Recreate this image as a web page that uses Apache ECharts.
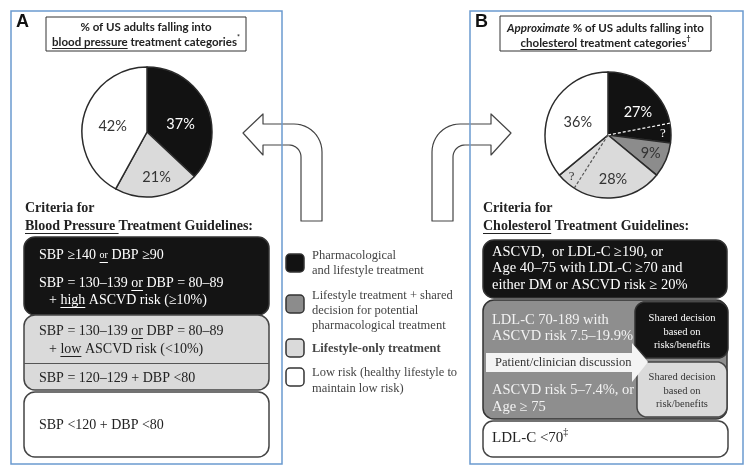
<!DOCTYPE html>
<html><head><meta charset="utf-8">
<script src="https://cdn.jsdelivr.net/npm/echarts@6/dist/echarts.min.js"></script>
<style>html,body{margin:0;padding:0;background:#fff}#c{width:747px;height:474px}</style>
</head><body><div id="c"></div>
<script>
// ---------------- DATA ----------------
const bpCategories = ['Pharmacological and lifestyle treatment', 'Lifestyle-only treatment', 'Low risk'];
const bpValues = [37, 21, 42];
const cholCategories = ['Pharmacological and lifestyle treatment', 'Lifestyle treatment + shared decision', 'Lifestyle-only treatment', 'Low risk'];
const cholValues = [27, 9, 28, 36];
const cholUncertain = [5, 0, 5, 0];   // "?" share inside each slice (dashed)
const legendLines = [
  ['Pharmacological', 'and lifestyle treatment'],
  ['Lifestyle treatment + shared', 'decision for potential', 'pharmacological treatment'],
  ['Lifestyle-only treatment'],
  ['Low risk (healthy lifestyle to', 'maintain low risk)']
];

// ---------------- STYLE ----------------
const catColor = {
  'Pharmacological and lifestyle treatment': '#121212',
  'Lifestyle treatment + shared decision': '#8c8c8c',
  'Lifestyle-only treatment': '#dadada',
  'Low risk': '#ffffff'
};
const catLabelColor = {
  'Pharmacological and lifestyle treatment': '#ffffff',
  'Lifestyle treatment + shared decision': '#333',
  'Lifestyle-only treatment': '#333',
  'Low risk': '#333'
};
const SERIF = "'Liberation Serif', 'Times New Roman', serif";
const SANS = "Lato, 'Open Sans', sans-serif";
const BLUE = '#6b9bd0';
const pieA = {center: [147, 132], r: 65, offsets: [[1, 6], [4, 10], [0, 3]]};
const pieB = {center: [608, 135], r: 63, offsets: [[4, 0], [11, 5], [5, 10], [1, 2]]};

const ctx = document.createElement('canvas').getContext('2d');
function fontStr(f) { return (f.style || 'normal') + ' ' + (f.weight || 'normal') + ' ' + f.size + 'px ' + f.family; }
const els = [];
function txtLine(x, y, segs, base) {
  base = Object.assign({family: SERIF, size: 14, weight: 'normal', style: 'normal', color: '#222', align: 'left'}, base || {});
  const parts = segs.map(s => {
    if (typeof s === 'string') s = {t: s};
    const f = Object.assign({}, base, s);
    ctx.font = fontStr(f);
    return {s: f, w: ctx.measureText(f.t).width};
  });
  const total = parts.reduce((a, p) => a + p.w, 0);
  let cx = base.align === 'center' ? x - total / 2 : x;
  parts.forEach(p => {
    const f = p.s;
    const yy = f.sup ? y - base.size * 0.35 : y;
    els.push({type: 'text', x: cx, y: yy, z: 20, silent: true,
      style: {text: f.t, font: fontStr(f), fill: f.color, textAlign: 'left', textVerticalAlign: 'middle'}});
    if (f.u) {
      const uy = Math.round(y + base.size * 0.52) + 0.5;
      els.push({type: 'line', z: 20, silent: true, shape: {x1: cx, y1: uy, x2: cx + p.w, y2: uy}, style: {stroke: f.color, lineWidth: 1}});
    }
    cx += p.w;
  });
}
function rect(x, y, w, h, r, fill, stroke, lw, z) {
  els.push({type: 'rect', z: z || 5, silent: true, shape: {x: x, y: y, width: w, height: h, r: r},
    style: {fill: fill, stroke: stroke, lineWidth: lw == null ? 1.5 : lw}});
}
function arc(cx, cy, r, a0, a1) {
  const pts = [], n = 12;
  for (let i = 0; i <= n; i++) {
    const a = (a0 + (a1 - a0) * i / n) * Math.PI / 180;
    pts.push([cx + r * Math.cos(a), cy + r * Math.sin(a)]);
  }
  return pts;
}
function poly(points, fill, stroke, lw, z) {
  els.push({type: 'polygon', z: z || 5, silent: true, shape: {points: points},
    style: {fill: fill, stroke: stroke, lineWidth: lw == null ? 1.5 : lw, lineJoin: 'round'}});
}

// curved arrows (drawn below panel borders)
const leftArrow = [[243, 133], [263, 114], [263, 124]]
  .concat(arc(294, 152, 28, -90, 0))
  .concat([[322, 221], [301, 221]])
  .concat(arc(289, 157, 12, 0, -90))
  .concat([[263, 145], [263, 155]]);
poly(leftArrow, '#fff', '#444', 1.2, 1);
poly(leftArrow.map(p => [754 - p[0], p[1]]), '#fff', '#444', 1.2, 1);

// panel borders
rect(11, 11, 271, 453, 0, 'none', BLUE, 1.5, 2);
rect(470, 11, 273, 453, 0, 'none', BLUE, 1.5, 2);

// panel letters
txtLine(16, 22, ['A'], {family: "Arial, 'Liberation Sans', sans-serif", size: 18, weight: 'bold', color: '#111'});
txtLine(475, 22, ['B'], {family: "Arial, 'Liberation Sans', sans-serif", size: 18, weight: 'bold', color: '#111'});

// title boxes
const TT = {family: SANS, size: 11.5, weight: 'bold', color: '#222', align: 'center'};
rect(46, 17, 200, 34, 0, '#fff', '#333', 1, 5);
txtLine(146, 27, ['% of US adults falling into'], TT);
txtLine(146, 42, [{t: 'blood pressure', u: true}, ' treatment categories', {t: '*', sup: true, size: 7}], TT);
rect(500, 16, 211, 35, 0, '#fff', '#333', 1, 5);
txtLine(605.5, 28, [{t: 'Approximate', style: 'italic'}, ' % of US adults falling into'], TT);
txtLine(605.5, 43, [{t: 'cholesterol', u: true}, ' treatment categories', {t: '\u2020', sup: true, size: 7}], TT);

// criteria headings
txtLine(25, 208, ['Criteria for'], {size: 14, weight: 'bold'});
txtLine(25, 226, [{t: 'Blood Pressure ', u: true}, 'Treatment Guidelines:'], {size: 14, weight: 'bold'});
txtLine(483, 208, ['Criteria for'], {size: 14, weight: 'bold'});
txtLine(483, 226, [{t: 'Cholesterol', u: true}, ' Treatment Guidelines:'], {size: 14, weight: 'bold'});

// ---- panel A boxes ----
rect(24, 237, 245, 78, 11, '#141414', '#333', 1.5, 5);
rect(24, 315, 245, 75, 11, '#dadada', '#444', 1.5, 5);
els.push({type: 'line', z: 6, silent: true, shape: {x1: 24, y1: 363.5, x2: 269, y2: 363.5}, style: {stroke: '#555', lineWidth: 1}});
rect(24, 392, 245, 65, 11, '#ffffff', '#444', 1.5, 5);
const W = {color: '#fff', size: 14};
txtLine(39, 255, ['SBP \u2265140 ', {t: 'or', u: true, size: 10}, ' DBP \u226590'], W);
txtLine(39, 283, ['SBP = 130\u2013139 ', {t: 'or', u: true}, ' DBP = 80\u201389'], W);
txtLine(49, 300, ['+ ', {t: 'high', u: true}, ' ASCVD risk (\u226510%)'], W);
const D = {color: '#222', size: 14};
txtLine(39, 331, ['SBP = 130\u2013139 ', {t: 'or', u: true}, ' DBP = 80\u201389'], D);
txtLine(49, 349, ['+ ', {t: 'low', u: true}, ' ASCVD risk (<10%)'], D);
txtLine(39, 378, ['SBP = 120\u2013129 + DBP <80'], D);
txtLine(39, 425, ['SBP <120 + DBP <80'], D);

// ---- legend ----
const legendY = [[256, 271], [296, 311, 326], [349], [373, 389]];
const legendBox = [254, 295, 339, 368];
const legendCats = ['Pharmacological and lifestyle treatment', 'Lifestyle treatment + shared decision', 'Lifestyle-only treatment', 'Low risk'];
legendCats.forEach((c, i) => {
  rect(286, legendBox[i], 18, 18, 4, catColor[c], '#333', 1.5, 5);
  legendLines[i].forEach((t, j) => txtLine(312, legendY[i][j], [t], {size: 12.5, color: '#444', weight: i === 2 ? 'bold' : 'normal'}));
});

// ---- panel B boxes ----
rect(483, 240, 244, 58, 11, '#141414', '#333', 1.5, 5);
rect(483, 300, 244, 119, 11, '#8e8e8e', '#333', 1.5, 5);
poly([].concat(arc(645, 312, 10, 180, 270), arc(718, 312, 10, 270, 360), arc(718, 348, 10, 0, 90), [[646, 358], [635, 346]]), '#141414', '#333', 1.5, 6);
poly([[637, 372], [646, 362]].concat(arc(717, 372, 10, 270, 360), arc(717, 407, 10, 0, 90), arc(647, 407, 10, 90, 180)), '#dadada', '#444', 1.5, 6);
poly([[486, 353], [632, 353], [632, 343], [648, 362], [632, 382], [632, 372], [486, 372]], '#f4f4f4', 'none', 0, 7);
rect(483, 421, 245, 36, 10, '#ffffff', '#444', 1.5, 5);
const BW = {color: '#fff', size: 14.5};
txtLine(492, 252, ['ASCVD,  or LDL-C \u2265190, or'], BW);
txtLine(492, 268, ['Age 40\u201375 with LDL-C \u226570 and'], BW);
txtLine(492, 285, ['either DM or ASCVD risk \u2265 20%'], BW);
const BG = {color: '#f2f2f2', size: 14.5};
txtLine(492, 320, ['LDL-C 70-189 with'], BG);
txtLine(492, 336, ['ASCVD risk 7.5\u201319.9%'], BG);
txtLine(492, 390, ['ASCVD risk 5\u20137.4%, or'], BG);
txtLine(492, 407, ['Age \u2265 75'], BG);
txtLine(495, 363, ['Patient/clinician discussion'], {color: '#333', size: 12.5});
const SW = {color: '#fff', size: 10.5, align: 'center'};
txtLine(682, 318, ['Shared decision'], SW);
txtLine(682, 332, ['based on'], SW);
txtLine(682, 345, ['risks/benefits'], SW);
const SD = {color: '#333', size: 10.5, align: 'center'};
txtLine(682, 377, ['Shared decision'], SD);
txtLine(682, 391, ['based on'], SD);
txtLine(682, 404, ['risk/benefits'], SD);
txtLine(492, 438, ['LDL-C <70', {t: '\u2021', sup: true, size: 10}], {color: '#222', size: 15});

// ---- dashed "uncertain" boundaries in pie B, from data ----
(function () {
  const total = cholValues.reduce((a, b) => a + b, 0);
  let cum = 0;
  cholValues.forEach((v, i) => {
    cum += v;
    const u = cholUncertain[i];
    if (!u) return;
    const a1 = (cum - u) / total * 2 * Math.PI;
    const am = (cum - u / 2) / total * 2 * Math.PI;
    const cx = pieB.center[0], cy = pieB.center[1], r = pieB.r;
    const col = catLabelColor[cholCategories[i]];
    els.push({type: 'line', z: 30, silent: true,
      shape: {x1: cx, y1: cy, x2: cx + r * Math.sin(a1), y2: cy - r * Math.cos(a1)},
      style: {stroke: i === 0 ? '#fff' : '#555', lineWidth: 1.2, lineDash: [3, 2]}});
    txtLine(cx + r * 0.87 * Math.sin(am), cy - r * 0.87 * Math.cos(am), ['?'], {color: col, size: 13, align: 'center'});
  });
})();

function pieData(cats, vals, offs) {
  return vals.map((v, i) => ({
    name: cats[i], value: v,
    itemStyle: {color: catColor[cats[i]]},
    label: {color: catLabelColor[cats[i]], offset: offs[i]}
  }));
}
const pieCommon = {
  type: 'pie', startAngle: 90, clockwise: true, silent: true, animation: false,
  itemStyle: {borderColor: '#2a2a2a', borderWidth: 1.5},
  label: {show: true, position: 'inside', formatter: p => p.value + '%', fontFamily: SANS, fontSize: 14.5},
  labelLine: {show: false}, emphasis: {disabled: true}
};
const chart = echarts.init(document.getElementById('c'), null, {renderer: 'canvas'});
chart.setOption({
  animation: false,
  series: [
    Object.assign({}, pieCommon, {center: pieA.center, radius: pieA.r, data: pieData(bpCategories, bpValues, pieA.offsets), z: 3}),
    Object.assign({}, pieCommon, {center: pieB.center, radius: pieB.r, data: pieData(cholCategories, cholValues, pieB.offsets), z: 3})
  ],
  graphic: {elements: els}
});
</script></body></html>
